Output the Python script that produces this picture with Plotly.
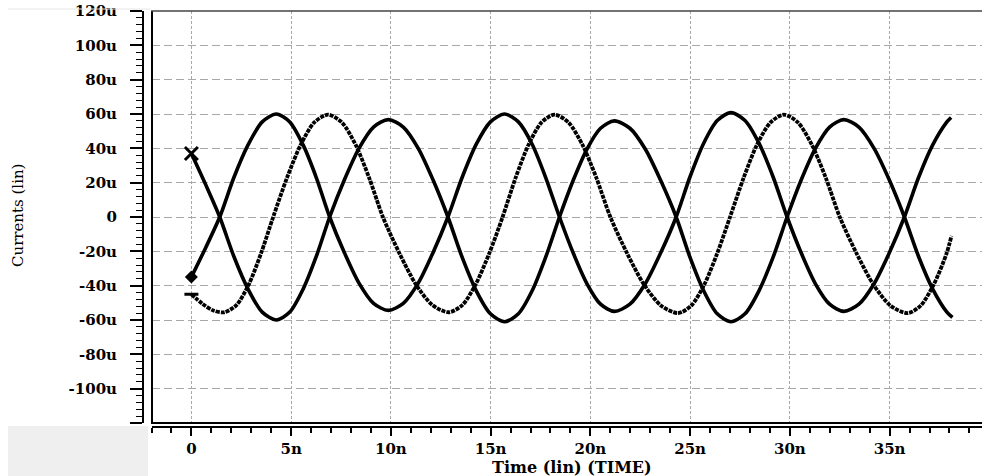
import plotly.graph_objects as go

# ---- data (time in ns, current in uA) ----
t_a = [0, 0.71, 1.42, 2.13, 2.84, 3.55, 4.26, 4.93, 5.6, 6.26, 6.93, 7.67, 8.4, 9.13, 9.87,
       10.62, 11.37, 12.11, 12.86, 13.57, 14.28, 14.99, 15.7, 16.39, 17.08, 17.76, 18.45,
       19.14, 19.83, 20.51, 21.2, 21.98, 22.75, 23.52, 24.3, 24.99, 25.68, 26.36, 27.05,
       27.75, 28.45, 29.16, 29.86, 30.57, 31.28, 31.99, 32.7, 33.46, 34.22, 34.98, 35.74,
       36.45, 37.16, 37.87, 38.15]
i_a = [37, 19, 0, -23, -42, -55.4, -60, -55.4, -42, -23, 0, 21.7, 40, 52.4, 56.7,
       52.4, 40, 21.7, 0, -23.4, -43, -56.4, -61, -56.4, -43, -23.4, 0,
       21.4, 39.6, 51.7, 56, 51.7, 39.6, 21.4, 0, -23.4, -43, -56.4, -61,
       -56.4, -43, -23.4, 0, 21.7, 40, 52.4, 56.7, 52.4, 40, 21.7, 0,
       -23, -42, -55.4, -58.5]

t_b = [0, 0.71, 1.42, 2.13, 2.84, 3.55, 4.26, 4.93, 5.6, 6.26, 6.93, 7.67, 8.4, 9.13, 9.87,
       10.62, 11.37, 12.11, 12.86, 13.57, 14.28, 14.99, 15.7, 16.39, 17.08, 17.76, 18.45,
       19.14, 19.83, 20.51, 21.2, 21.98, 22.75, 23.52, 24.3, 24.99, 25.68, 26.36, 27.05,
       27.75, 28.45, 29.16, 29.86, 30.57, 31.28, 31.99, 32.7, 33.46, 34.22, 34.98, 35.74,
       36.45, 37.16, 37.87, 38.08]
i_b = [-35, -18, 0, 23, 42, 55.4, 60, 55.4, 42, 23, 0, -20.8, -38.5, -50.3, -54.4,
       -50.3, -38.5, -20.8, 0, 23, 42.4, 55.4, 60, 55.4, 42.4, 23, 0,
       -21, -38.9, -50.8, -55, -50.8, -38.9, -21, 0, 23.3, 43, 56.2, 60.8,
       56.2, 43, 23.3, 0, -21, -38.9, -50.8, -55, -50.8, -38.9, -21, 0,
       23, 42, 55.4, 58]

t_c = [0, 0.55, 1.1, 1.65, 2.26, 2.88, 3.49, 4.1, 4.79, 5.48, 6.16, 6.85, 7.54, 8.23, 8.91,
       9.6, 10.43, 11.25, 12.08, 12.9, 13.58, 14.25, 14.93, 15.6, 16.25, 16.9, 17.55, 18.2,
       18.9, 19.6, 20.3, 21.0, 21.85, 22.7, 23.55, 24.4, 25.05, 25.7, 26.35, 27.0, 27.68,
       28.35, 29.03, 29.7, 30.4, 31.1, 31.8, 32.5, 33.35, 34.2, 35.05, 35.9, 36.55, 37.2,
       37.85, 38.1]
i_c = [-45, -50.5, -54.5, -55.5, -51.3, -39.2, -21.2, 0, 22.8, 42.1, 55.1, 59.6, 55.1, 42.1,
       22.8, 0, -21.2, -39.2, -51.3, -55.5, -51.3, -39.2, -21.2, 0, 22.8, 42.1, 55.1, 59.6,
       55.1, 42.1, 22.8, 0, -21.4, -39.6, -51.7, -56, -51.7, -39.6, -21.4, 0, 22.8,
       42.1, 55.1, 59.6, 55.1, 42.1, 22.8, 0, -21.4, -39.6, -51.7, -56, -51.7, -39.6,
       -21.4, -11]

x_tickvals = [0, 5, 10, 15, 20, 25, 30, 35]
x_ticktext = ["0", "5n", "10n", "15n", "20n", "25n", "30n", "35n"]
y_tickvals = [-120, -100, -80, -60, -40, -20, 0, 20, 40, 60, 80, 100, 120]
y_ticktext = ["", "-100u", "-80u", "-60u", "-40u", "-20u", "0", "20u", "40u", "60u",
              "80u", "100u", "120u"]

W, H = 982, 476
ML, MR, MT, MB = 143, 0, 11, 49
PW = W - ML - MR
PH = H - MT - MB


def px(x):
    return (x - ML) / PW


def py(y):
    return (H - MB - y) / PH


fig = go.Figure()

line_solid = dict(color="black", width=3.6, shape="spline", smoothing=0.8)
fig.add_trace(go.Scatter(x=t_a, y=i_a, mode="lines", line=line_solid,
                         showlegend=False, hoverinfo="skip"))
fig.add_trace(go.Scatter(x=t_b, y=i_b, mode="lines", line=line_solid,
                         showlegend=False, hoverinfo="skip"))
fig.add_trace(go.Scatter(x=t_c, y=i_c, mode="lines",
                         line=dict(color="black", width=3.8, shape="spline", smoothing=0.8,
                                   dash="4px,1px"),
                         showlegend=False, hoverinfo="skip"))

# start markers
fig.add_trace(go.Scatter(x=[t_a[0]], y=[i_a[0]], mode="markers",
                         marker=dict(symbol="x-thin", size=13, line=dict(width=3, color="black")),
                         showlegend=False, hoverinfo="skip"))
fig.add_trace(go.Scatter(x=[t_b[0]], y=[i_b[0]], mode="markers",
                         marker=dict(symbol="diamond", size=10, color="black"),
                         showlegend=False, hoverinfo="skip"))
fig.add_trace(go.Scatter(x=[t_c[0]], y=[i_c[0]], mode="markers",
                         marker=dict(symbol="line-ew", size=10, line=dict(width=3, color="black")),
                         showlegend=False, hoverinfo="skip"))

tickfont = dict(family="DejaVu Serif", size=15, color="black", weight="bold")

fig.update_layout(
    width=W, height=H,
    margin=dict(l=ML, r=MR, t=MT, b=MB),
    paper_bgcolor="white", plot_bgcolor="white",
    xaxis=dict(
        domain=[px(151.5), 1], range=[-2, 39.63], anchor="free", position=0,
        tickmode="array", tickvals=x_tickvals, ticktext=x_ticktext,
        ticks="outside", ticklen=8, tickwidth=1.5, tickcolor="black",
        showline=True, linecolor="black", linewidth=2,
        showgrid=True, gridcolor="#a8a8a8", gridwidth=1, griddash="3px,2px",
        zeroline=False, tickfont=tickfont,
        minor=dict(dtick=1, tick0=0, ticks="outside", ticklen=5, tickwidth=1.5,
                   tickcolor="black", showgrid=False),
    ),
    yaxis=dict(
        domain=[py(423), 1], range=[-120, 120], anchor="free", position=0,
        tickmode="array", tickvals=y_tickvals, ticktext=y_ticktext,
        ticks="outside", ticklen=12, tickwidth=1.5, tickcolor="black",
        ticklabelstandoff=10,
        showline=True, linecolor="black", linewidth=2,
        showgrid=True, gridcolor="#a8a8a8", gridwidth=1, griddash="8px,4px",
        zeroline=False, tickfont=tickfont,
        minor=dict(dtick=4, tick0=0, ticks="outside", ticklen=6, tickwidth=1.2,
                   tickcolor="black", showgrid=False),
    ),
    shapes=[
        # grey patch bottom-left
        dict(type="rect", xref="paper", yref="paper", x0=px(8), x1=px(148), y0=py(476), y1=py(426),
             fillcolor="#efefef", line=dict(width=0), layer="below"),
        # faint top-left line
        dict(type="line", xref="paper", yref="paper", x0=px(8), x1=px(150), y0=py(9), y1=py(9),
             line=dict(color="#e6e6e6", width=1)),
        # frame
        dict(type="line", xref="paper", yref="paper", x0=px(152), x1=px(152), y0=py(423), y1=py(11),
             line=dict(color="black", width=2)),
        dict(type="line", xref="paper", yref="paper", x0=px(151), x1=1, y0=py(423), y1=py(423),
             line=dict(color="black", width=2)),
        dict(type="line", xref="paper", yref="paper", x0=px(151), x1=1, y0=py(11), y1=py(11),
             line=dict(color="#444444", width=1.5)),
    ],
    annotations=[
        dict(text="Currents (lin)", xref="paper", yref="paper", x=px(18), y=py(216),
             textangle=-90, showarrow=False, xanchor="center", yanchor="middle",
             font=dict(family="DejaVu Serif", size=15, color="black")),
        dict(text="Time (lin) (TIME)", xref="paper", yref="paper", x=px(572), y=py(467),
             showarrow=False, xanchor="center", yanchor="middle",
             font=dict(family="DejaVu Serif", size=16, color="black", weight="bold")),
    ],
)

fig.write_html("out.html")
